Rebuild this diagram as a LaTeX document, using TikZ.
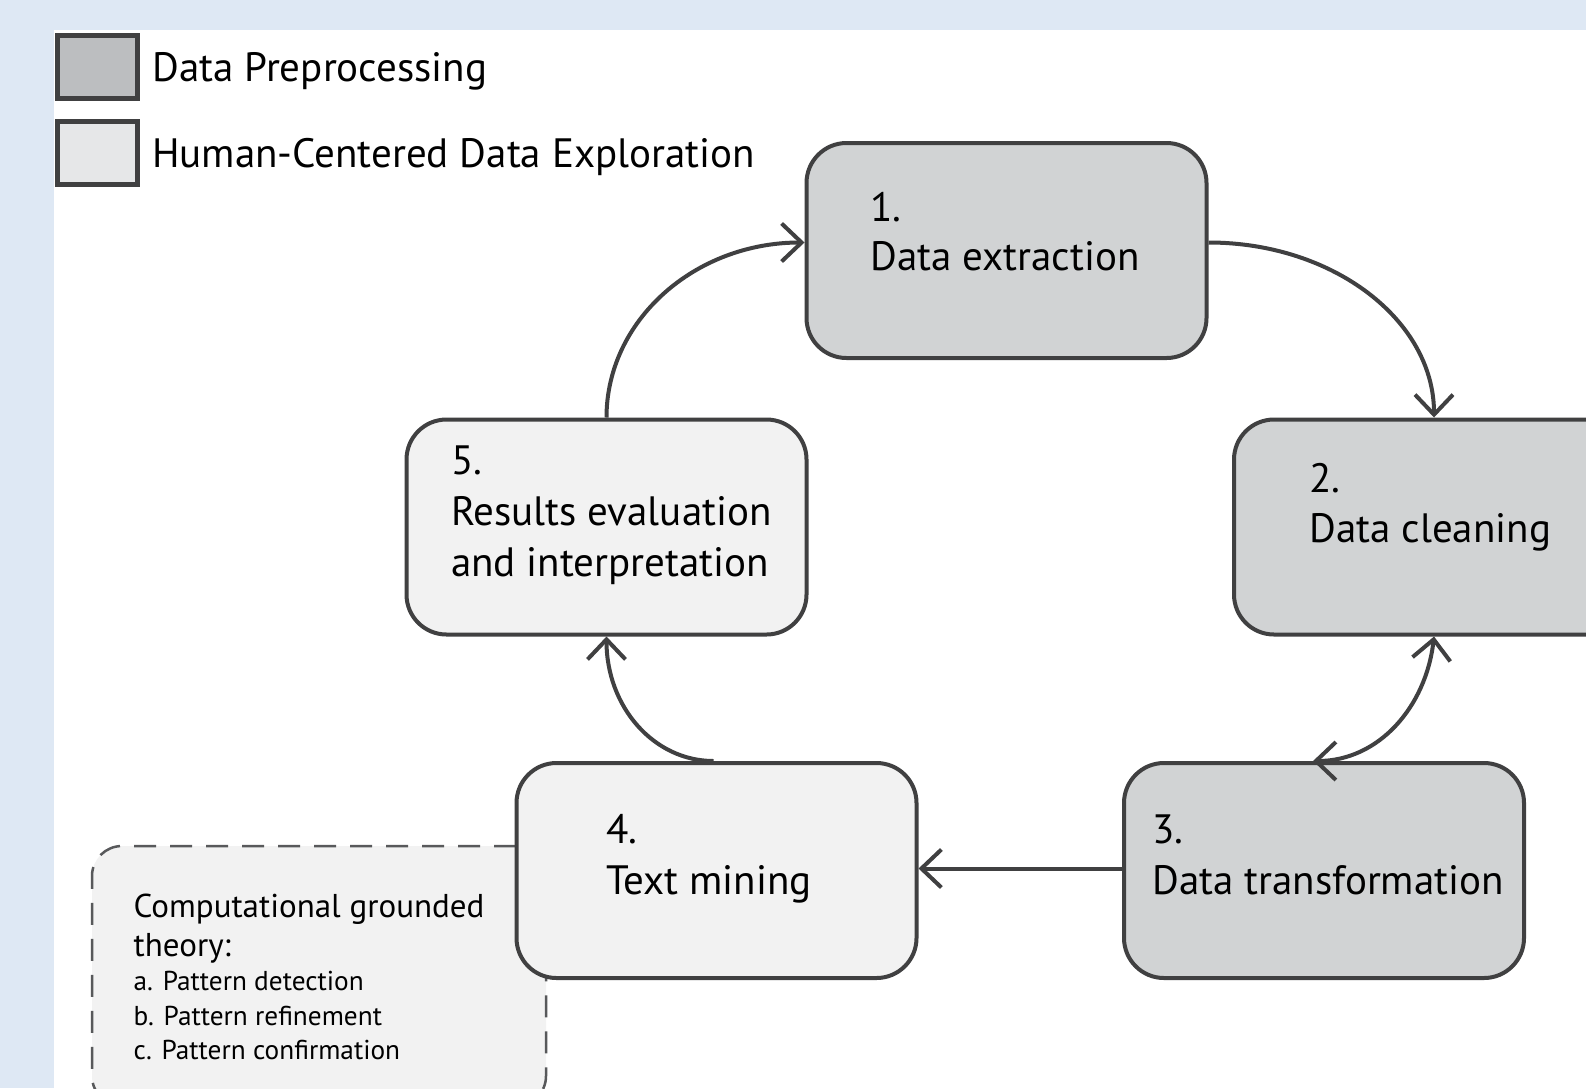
\documentclass[tikz,border=0pt]{standalone}
\usepackage{fontspec}
\setmainfont{PT Sans}
\usetikzlibrary{arrows.meta}
\definecolor{bgblue}{HTML}{DEE8F4}
\definecolor{edgecol}{HTML}{404041}
\definecolor{darkfill}{HTML}{D1D3D4}
\definecolor{lightfill}{HTML}{F2F2F2}
\definecolor{legdark}{HTML}{BCBEC0}
\definecolor{leglight}{HTML}{E6E7E8}
\definecolor{dashcol}{HTML}{58595B}
\tikzset{
  stagebox/.style={draw=edgecol, line width=4pt, rounded corners=40pt, minimum width=400pt, minimum height=215pt, inner sep=0pt},
  prepbox/.style={stagebox, fill=darkfill},
  humanbox/.style={stagebox, fill=lightfill},
  legbox/.style={draw=edgecol, line width=5pt, minimum width=80pt, minimum height=63pt, inner sep=0pt},
  bigtext/.style={anchor=base west, inner sep=0pt, font=\fontsize{41}{48}\selectfont, text=black},
  midtext/.style={anchor=base west, inner sep=0pt, font=\fontsize{33}{39}\selectfont, text=black},
  smalltext/.style={anchor=base west, inner sep=0pt, font=\fontsize{27.3}{32}\selectfont, text=black},
  conn/.style={draw=edgecol, line width=4pt, -{Straight Barb[length=20pt,width=38pt]}},
  dconn/.style={draw=edgecol, line width=4pt, {Straight Barb[length=20pt,width=38pt]}-{Straight Barb[length=20pt,width=38pt]}},
  cgtbox/.style={draw=dashcol, line width=2.5pt, dash pattern=on 22pt off 14pt, rounded corners=30pt, fill=lightfill, minimum width=454pt, minimum height=260pt, inner sep=0pt}
}
\begin{document}
\begin{tikzpicture}[x=1pt,y=-1pt]
\useasboundingbox (0,0) rectangle (1586,1088);
\clip (0,0) rectangle (1586,1088);
\fill[bgblue] (0,0) rectangle (1586,1088);
\fill[white] (54,30) rectangle (1586,1088);

% legend
\node[legbox, fill=legdark] (lg1) at (97,66.5) {};
\node[legbox, fill=leglight] (lg2) at (97,152.5) {};
\node[bigtext] (lt1) at (152,81) {Data Preprocessing};
\node[bigtext] (lt2) at (152,167) {Human-Centered Data Exploration};

% computational grounded theory box (behind node 4)
\node[cgtbox] (cgt) at (319,976) {};
\node[midtext] (c1) at (133.5,917) {Computational grounded};
\node[midtext] (c2) at (133.5,956) {theory:};
\node[smalltext] (c3) at (133.5,990) {a. Pattern detection};
\node[smalltext] (c4) at (133.5,1025) {b. Pattern refinement};
\node[smalltext] (c5) at (133.5,1059) {c. Pattern confirmation};

% stages
\node[prepbox] (n1) at (1006.5,250.5) {};
\node[prepbox] (n2) at (1434,527) {};
\node[prepbox] (n3) at (1324,870.5) {};
\node[humanbox] (n4) at (716.5,870.5) {};
\node[humanbox] (n5) at (606.5,527) {};

\node[bigtext] (t1a) at (870,221) {1.};
\node[bigtext] (t1b) at (870,270.5) {Data extraction};
\node[bigtext] (t2a) at (1309,492) {2.};
\node[bigtext] (t2b) at (1309,542.5) {Data cleaning};
\node[bigtext] (t3a) at (1152,843.5) {3.};
\node[bigtext] (t3b) at (1152,894) {Data transformation};
\node[bigtext] (t4a) at (606,843.5) {4.};
\node[bigtext] (t4b) at (606,894) {Text mining};
\node[bigtext] (t5a) at (451,474.5) {5.};
\node[bigtext] (t5b) at (451,525.5) {Results evaluation};
\node[bigtext] (t5c) at (451,576) {and interpretation};

% connectors
\draw[conn] ([yshift=8pt]n1.east) .. controls +(125,0) and +(0,-97) .. (n2.north);
\draw[conn] (n5.north) .. controls +(0,-97) and +(-110,0) .. ([yshift=8pt]n1.west);
\draw[dconn] (n2.south) .. controls +(-8,70) and +(66,0) .. ([xshift=-11pt]n3.north);
\draw[conn] ([yshift=2pt]n3.west) -- ([yshift=2pt]n4.east);
\draw[conn] ([xshift=-3pt]n4.north) .. controls +(-60,0) and +(0,70) .. (n5.south);
\end{tikzpicture}
\end{document}
